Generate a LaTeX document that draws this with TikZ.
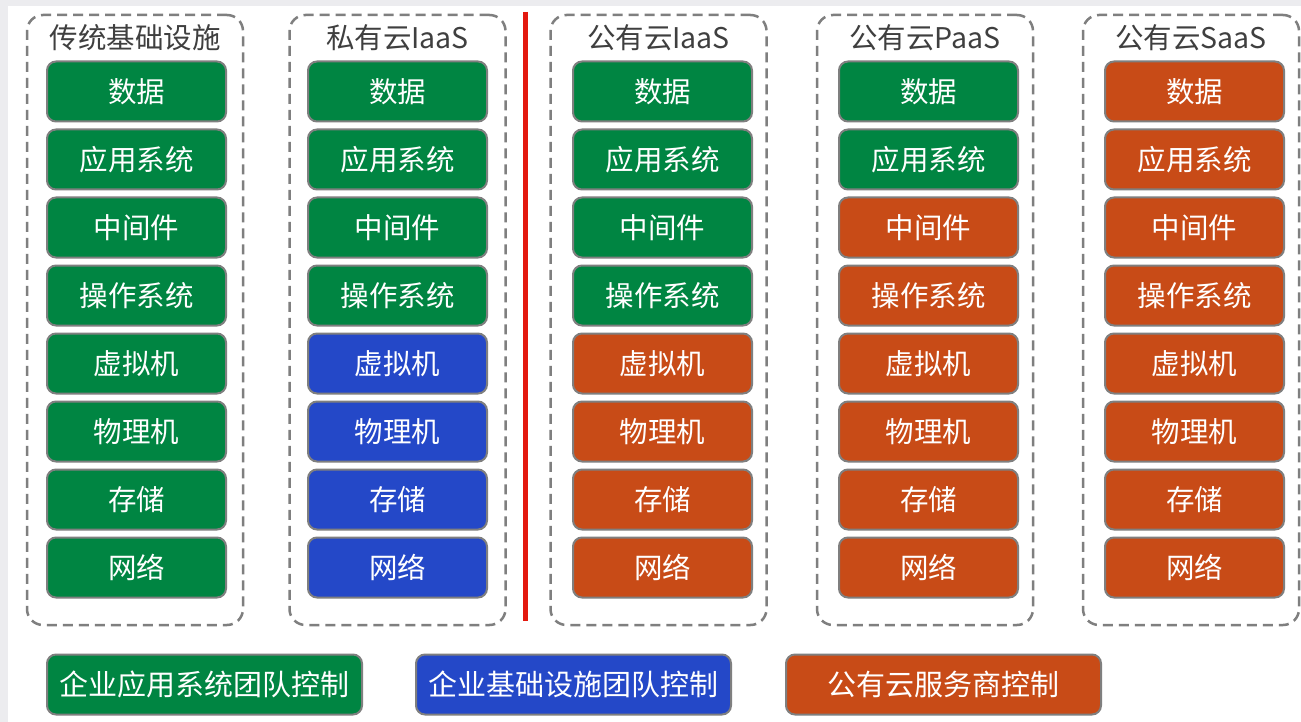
\documentclass[tikz,border=0pt]{standalone}
\usepackage{fontspec}
\setmainfont{Noto Sans CJK SC}
\definecolor{gr}{HTML}{008542}
\definecolor{bl}{HTML}{2448C8}
\definecolor{orr}{HTML}{C84B17}
\definecolor{bd}{HTML}{7F7F7F}
\definecolor{tt}{HTML}{3F3F3F}
\definecolor{bgg}{HTML}{ECECEF}
\definecolor{rl}{HTML}{E3190F}
\begin{document}
\begin{tikzpicture}[x=1pt,y=-1pt,
 layer/.style={draw=bd,line width=2pt,rounded corners=9pt,minimum width=179pt,minimum height=60pt,text=white,font=\fontsize{28.5}{32}\selectfont,inner sep=0pt},
 legend/.style={layer,minimum width=315pt,font=\fontsize{29}{32}\selectfont},
 grp/.style={draw=bd,line width=2.5pt,dash pattern=on 10pt off 6pt,rounded corners=16pt,minimum width=216pt,minimum height=610pt,inner sep=0pt},
 ttl/.style={text=tt,font=\fontsize{28.5}{32}\selectfont,inner sep=0pt}]
\useasboundingbox (0,0) rectangle (1301,722);
\fill[bgg] (0,0) rectangle (1301,722);
\fill[white] (8,6) rectangle (1301,722);
% groups
\foreach \gx/\n/\t in {135/1/传统基础设施, 397.5/2/私有云IaaS, 658.5/3/公有云IaaS, 925/4/公有云PaaS, 1191/5/公有云SaaS}{
  \node[grp] (g\n) at (\gx,320) {};
  \node[ttl] (t\n) at (\gx,38) {\t};
}
% red divider
\coordinate (rtop) at (525,12);
\coordinate (rbot) at (525,621);
\draw[rl,line width=5pt] (rtop) -- (rbot);
% layers
\def\labels{{"数据","应用系统","中间件","操作系统","虚拟机","物理机","存储","网络"}}
\foreach \cx/\n/\ng/\nb in {136.5/1/8/0, 397.5/2/4/4, 662.5/3/4/0, 928.5/4/2/0, 1194.5/5/0/0}{
  \foreach \r in {1,...,8}{
    \pgfmathsetmacro{\yy}{91.5+68*(\r-1)}
    \pgfmathparse{\labels[\r-1]}\let\lab\pgfmathresult
    \ifnum\r>\ng
      \pgfmathtruncatemacro{\lim}{\ng+\nb}
      \ifnum\r>\lim
        \def\col{orr}
      \else
        \def\col{bl}
      \fi
    \else
      \def\col{gr}
    \fi
    \node[layer,fill=\col] (c\n r\r) at (\cx,\yy) {\lab};
  }
}
% legend
\node[legend,fill=gr] (l1) at (204.5,684.5) {企业应用系统团队控制};
\node[legend,fill=bl] (l2) at (573.5,684.5) {企业基础设施团队控制};
\node[legend,fill=orr] (l3) at (943.5,684.5) {公有云服务商控制};
\end{tikzpicture}
\end{document}
